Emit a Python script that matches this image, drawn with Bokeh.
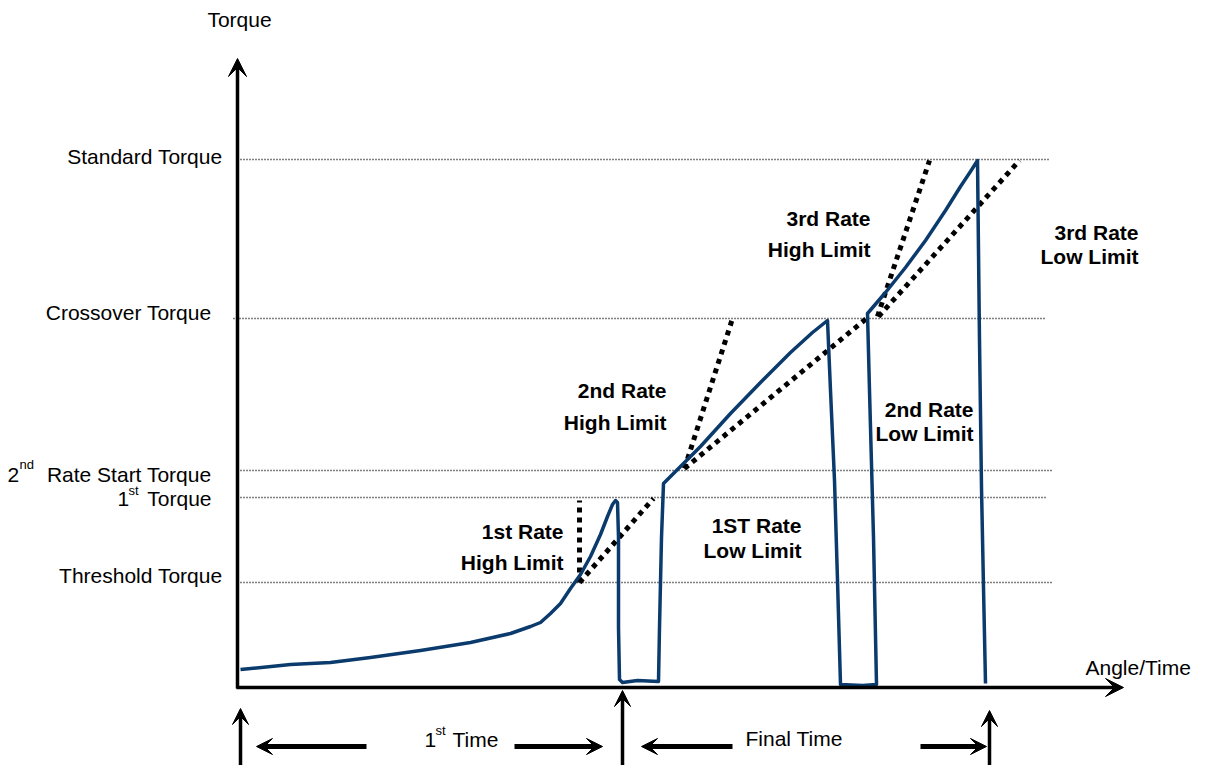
from bokeh.plotting import figure
from bokeh.models import Range1d, Arrow, VeeHead
from bokeh.core.properties import value
from bokeh.embed import file_html
from bokeh.resources import INLINE

# ---------------- data (angle / torque in schematic units, axis origin = 0) -------------
level_names = ["Standard Torque", "Crossover Torque", "2nd Rate Start Torque", "1st Torque", "Threshold Torque"]
level_torque = [528, 369, 217, 190, 105]
level_start = [3, -4, 3, 3, 3]
level_end = [813, 808, 816, 808, 815]

curve_angle = [3, 53, 93, 133, 183, 233, 273, 293, 303,
               313, 323, 333, 343, 353, 363, 370, 375, 378, 380,
               381, 381, 382, 385, 400, 421, 422, 424, 426,
               441, 463, 493, 523, 553, 575, 590,
               593, 597, 600, 603, 625, 639, 636, 632, 630,
               648, 668, 688, 708, 723, 733, 740,
               742, 744, 746, 748]
curve_torque = [18, 23, 25, 30, 37, 45, 54, 61, 65,
                74, 84, 99, 113, 131, 153, 171, 183, 187, 185,
                150, 60, 8, 5, 7, 6, 60, 150, 204,
                219, 241, 274, 305, 335, 355, 367,
                297, 207, 107, 3, 2, 3, 150, 297, 374,
                395, 420, 447, 477, 501, 516, 527,
                347, 200, 100, 4]

# rate limit lines: (angle0, torque0) -> (angle1, torque1)
limit_names = ["1st Rate High Limit", "1ST Rate Low Limit", "2nd Rate High Limit",
               "2nd Rate Low Limit", "3rd Rate High Limit", "3rd Rate Low Limit"]
limit_a0 = [342, 342, 447, 447, 640, 641]
limit_t0 = [105, 105, 219, 219, 371, 371]
limit_a1 = [342, 416, 495, 629, 692, 782]
limit_t1 = [187, 189, 369, 369, 527, 527]

# timing marks (angle) and their arrow tips (torque)
time_marks = [3, 385, 752]
time_tips = [-21, -3, -23]

# ---------------- layout helpers (pixel -> data) ----------------
OX, OY = 237, 687
TEXT_SHIFT = 8


def px(X, Y):
    return X - OX, OY - Y


W, H = 1204, 765
p = figure(width=W, height=H, output_backend="svg", toolbar_location=None,
           x_range=Range1d(0 - OX, W - OX), y_range=Range1d(OY - H, OY),
           x_axis_type=None, y_axis_type=None, min_border=0)
p.outline_line_color = None
p.grid.visible = False
p.background_fill_color = "white"

BLUE = "#0b3a6c"
FONT = value("Liberation Sans")

# horizontal reference levels
for s, e, t in zip(level_start, level_end, level_torque):
    p.line([s, e], [t, t], line_color="black", line_width=1.3, line_dash="1 2")

# rate limit dotted lines
for a0, t0, a1, t1 in zip(limit_a0, limit_t0, limit_a1, limit_t1):
    p.line([a0, a1], [t0, t1], line_color="black", line_width=5, line_dash="5 5")

# torque curve
p.line(curve_angle, curve_torque, line_color=BLUE, line_width=3.5, line_join="round")

# axes with arrows
p.add_layout(Arrow(end=VeeHead(size=18, fill_color="black", line_color="black"),
                   x_start=0, y_start=-1, x_end=0, y_end=629,
                   line_width=3.5, line_color="black"))
p.add_layout(Arrow(end=VeeHead(size=18, fill_color="black", line_color="black"),
                   x_start=-1, y_start=0, x_end=886, y_end=0,
                   line_width=3.5, line_color="black"))

# timing arrows
for a, tip in zip(time_marks, time_tips):
    p.add_layout(Arrow(end=VeeHead(size=16, fill_color="black", line_color="black"),
                       x_start=a, y_start=-90, x_end=a, y_end=tip,
                       line_width=3.5, line_color="black"))

harrows = [(366, 256), (514, 602), (732, 641), (920, 986)]
for x0, x1 in harrows:
    a0, t = px(x0, 746)
    a1, _ = px(x1, 746)
    p.add_layout(Arrow(end=VeeHead(size=16, fill_color="black", line_color="black"),
                       x_start=a0, y_start=t, x_end=a1, y_end=t,
                       line_width=5, line_color="black"))


def label(txt, X, Yb, align="left", size="21px", style="normal"):
    a, t = px(X, Yb - TEXT_SHIFT)
    p.text([a], [t], text=[txt], text_align=align, text_baseline="alphabetic",
           text_font=FONT, text_font_size=size, text_font_style=style, text_color="black")


# axis titles
label("Torque", 239, 27, align="center")
label("Angle/Time", 1085, 675)

# level labels
label("Standard Torque", 222, 164, align="right")
label("Crossover Torque", 211, 320, align="right")
label("2", 7, 482)
label("nd", 19, 472, size="13px")
label("Rate Start Torque", 211, 482, align="right")
label("1", 117, 506)
label("st", 128, 498, size="13px")
label("Torque", 211, 506, align="right")
label("Threshold Torque", 222, 583, align="right")

# time labels
label("1", 424, 747)
label("st", 435, 738, size="13px")
label("Time", 452, 747)
label("Final Time", 745, 746)

# limit labels (bold)
bold = [("1st Rate", 563, 539), ("High Limit", 563, 570),
        ("2nd Rate", 666, 398), ("High Limit", 666, 430),
        ("1ST Rate", 801, 533), ("Low Limit", 801, 558),
        ("3rd Rate", 870, 226), ("High Limit", 870, 257),
        ("2nd Rate", 973, 417), ("Low Limit", 973, 441),
        ("3rd Rate", 1138, 240), ("Low Limit", 1138, 264)]
for txt, X, Yb in bold:
    label(txt, X, Yb, align="right", style="bold")

open("out.html", "w").write(file_html(p, INLINE))
